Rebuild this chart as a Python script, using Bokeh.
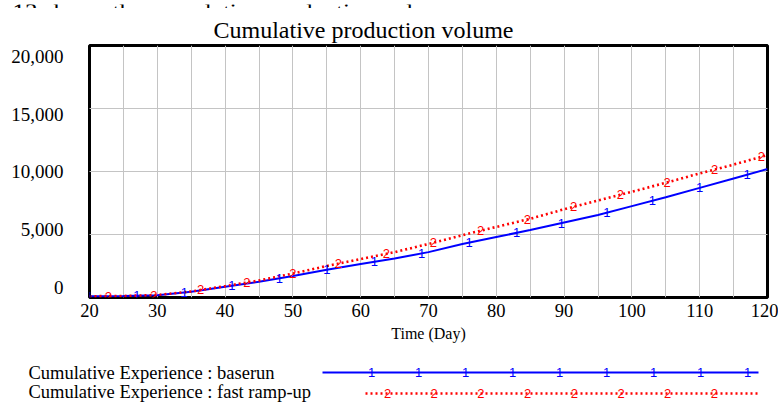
import numpy as np
from bokeh.plotting import figure
from bokeh.models import (Range1d, LinearAxis, SingleIntervalTicker, FixedTicker, Grid,
                          NumeralTickFormatter, ColumnDataSource)
from bokeh.core.properties import value
from bokeh.embed import file_html
from bokeh.resources import INLINE

# ---------------- data ----------------
time = [20, 25, 30, 35, 40, 45, 50, 55, 60, 65, 70, 75, 80, 85, 90, 95, 100, 105, 110, 115, 120]
baserun = [100, 120, 180, 450, 850, 1250, 1700, 2200, 2650, 3100, 3600, 4250, 4800, 5350,
           5950, 6550, 7250, 7950, 8700, 9450, 10200]
fast_rampup = [100, 120, 200, 480, 900, 1350, 1900, 2500, 3050, 3600, 4250, 4950, 5600, 6250,
               7000, 7700, 8400, 9100, 9850, 10550, 11300]
# times at which the run number markers are drawn
baserun_marker_t = [20, 27, 34, 41, 48, 55, 62, 69, 76, 83, 89.6, 96.3, 103, 110, 117]
fast_marker_t = [22.8, 29.5, 36.4, 43.2, 50, 56.7, 63.8, 70.7, 77.7, 84.6, 91.4, 98.3, 105.2, 112.2, 119.1]
x_ticks = [20, 30, 40, 50, 60, 70, 80, 90, 100, 110, 120]
y_ticks = [0, 5000, 10000, 15000, 20000]
title_text = "Cumulative production volume"
caption_text = "13 shows the cumulative production volume."
x_label = "Time (Day)"
series_names = ["Cumulative Experience : baserun", "Cumulative Experience : fast ramp-up"]
series_marks = ["1", "2"]

BLUE = "#0000FF"
RED = "#FF0000"
SERIF = "Liberation Serif"
SANS = "Liberation Sans"

W = 778
H_CAP, H_MAIN, H_LEG = 8, 344, 53
ML, MR, MT, MB = 89, 11, 37, 55
X0, X1, Y0, Y1 = 20, 120, 0, 20000


def strip(h):
    f = figure(width=W, height=h, x_range=Range1d(0, W), y_range=Range1d(h, 0),
               output_backend="svg", toolbar_location=None, min_border=0,
               x_axis_location=None, y_axis_location=None)
    f.outline_line_color = None
    f.background_fill_color = "white"
    f.border_fill_color = "white"
    f.grid.visible = False
    return f


# ---------------- cut-off line of the surrounding document ----------------
cap = strip(H_CAP)
cap.text(x=[12], y=[7.5], text=[caption_text], text_font=value(SERIF), text_font_size="25px",
         text_color="black", text_align="left", text_baseline="alphabetic")

# ---------------- main chart ----------------
p = figure(width=W, height=H_MAIN, x_range=Range1d(X0, X1), y_range=Range1d(Y0, Y1),
           output_backend="svg", toolbar_location=None, y_axis_location=None,
           min_border_left=ML, min_border_right=MR, min_border_top=MT, min_border_bottom=MB)
p.background_fill_color = "white"
p.border_fill_color = "white"
p.outline_line_color = "black"
p.outline_line_width = 3

p.title.text = title_text
p.title.align = "left"
p.title.offset = 124
p.title.standoff = 6
p.title.text_font = SERIF
p.title.text_font_size = "24px"
p.title.text_font_style = "normal"
p.title.text_color = "black"

xa = p.xaxis[0]
xa.ticker = FixedTicker(ticks=x_ticks)
xa.axis_line_color = None
xa.major_tick_line_color = None
xa.minor_tick_line_color = None
xa.major_tick_out = 0
xa.major_tick_in = 0
xa.major_label_standoff = 6
xa.major_label_text_font = SERIF
xa.major_label_text_font_size = "18.5px"
xa.major_label_text_color = "black"
xa.axis_label = x_label
xa.axis_label_text_font = SERIF
xa.axis_label_text_font_size = "16px"
xa.axis_label_text_font_style = "normal"
xa.axis_label_text_color = "black"
xa.axis_label_standoff = 5

p.xgrid[0].ticker = SingleIntervalTicker(interval=5)
p.xgrid[0].grid_line_color = "#C4C4C4"
p.xgrid[0].grid_line_width = 1

p.add_layout(Grid(dimension=1, ticker=FixedTicker(ticks=y_ticks),
                  grid_line_color="#C4C4C4", grid_line_width=1))

# y axis: the tool lays its labels out on a slightly compressed scale
p.extra_y_ranges = {"labels": Range1d(-866, 20952)}
ya = LinearAxis(y_range_name="labels", ticker=FixedTicker(ticks=y_ticks),
                formatter=NumeralTickFormatter(format="0,0"))
ya.axis_line_color = None
ya.major_tick_line_color = None
ya.minor_tick_line_color = None
ya.major_tick_out = 0
ya.major_tick_in = 0
ya.major_label_standoff = 26
ya.major_label_text_font = SERIF
ya.major_label_text_font_size = "19px"
ya.major_label_text_color = "black"
p.add_layout(ya, "left")

src = ColumnDataSource(dict(t=time, base=baserun, fast=fast_rampup))
p.line("t", "base", source=src, line_color=BLUE, line_width=2)
p.line("t", "fast", source=src, line_color=RED, line_width=2.6, line_dash="2 3")

bm = ColumnDataSource(dict(t=baserun_marker_t, v=np.interp(baserun_marker_t, time, baserun),
                           s=[series_marks[0]] * len(baserun_marker_t)))
fm = ColumnDataSource(dict(t=fast_marker_t, v=np.interp(fast_marker_t, time, fast_rampup),
                           s=[series_marks[1]] * len(fast_marker_t)))
p.text("t", "v", text="s", source=bm, text_color=BLUE, text_font=value(SANS),
       text_font_size="13px", text_align="center", text_baseline="middle")
p.text("t", "v", text="s", source=fm, text_color=RED, text_font=value(SANS),
       text_font_size="13px", text_align="center", text_baseline="middle")

# ---------------- legend strip (x, y in page pixels of the strip) ----------------
leg = strip(H_LEG)
rows_y = [20, 39]
line_y = [20, 41]
line_start = [322, 365]
line_end = 758
mark_start = [371, 387]
mark_step = [47, 46.7]
mark_count = [9, 8]
colors = [BLUE, RED]
dashes = ["solid", "2 3"]
widths = [2, 2.6]

leg.text(x=[28, 28], y=rows_y, text=series_names, text_font=value(SERIF),
         text_font_size="18.5px", text_color="black", text_align="left", text_baseline="middle")
for i in range(2):
    leg.line(x=[line_start[i], line_end], y=[line_y[i]] * 2,
             line_color=colors[i], line_width=widths[i], line_dash=dashes[i])
    xs = [mark_start[i] + k * mark_step[i] for k in range(mark_count[i])]
    leg.text(x=xs, y=[line_y[i]] * len(xs), text=[series_marks[i]] * len(xs),
             text_color=colors[i], text_font=value(SANS), text_font_size="13px",
             text_align="center", text_baseline="middle")

open("out.html", "w").write(file_html([cap, p, leg], INLINE))
